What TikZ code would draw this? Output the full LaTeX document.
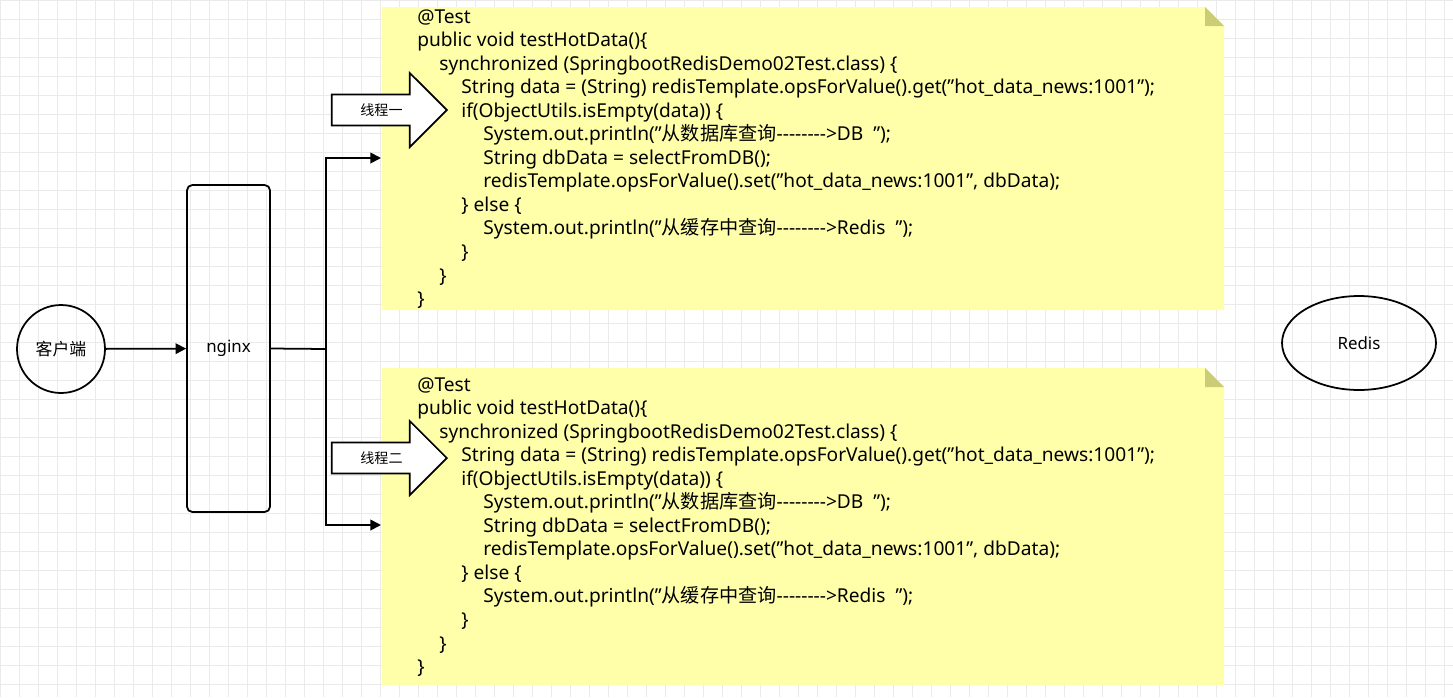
\documentclass[tikz,border=0pt]{standalone}
\usepackage{fontspec}
\setmainfont{Noto Sans}
\newfontfamily\cjk{Noto Sans CJK SC}
\usetikzlibrary{shapes.arrows,shapes.geometric,arrows.meta}
\definecolor{notey}{RGB}{255,255,170}
\definecolor{foldy}{RGB}{204,204,119}
\definecolor{gridc}{RGB}{234,234,234}
\newcommand{\ind}[1]{\hspace*{#1\dimexpr 0.44cm\relax}}
\newcommand{\dq}{\symbol{34}}
\newcommand{\arr}{\symbol{45}\symbol{45}\symbol{45}\symbol{45}\symbol{45}\symbol{45}\symbol{45}\symbol{45}>}
\begin{document}
\begin{tikzpicture}[x=0.02cm,y=-0.02cm,
   every node/.style={font=\fontsize{10.9}{13.4}\selectfont},
   box/.style={draw=black,line width=1pt},
   flow/.style={draw=black,line width=1pt,-{Triangle[length=6pt,width=6pt]}},
   thread/.style={single arrow,draw=black,line width=1pt,fill=white,minimum height=2.3cm,
                  minimum width=1.48cm,single arrow head extend=0.25cm,inner sep=1pt,
                  font=\cjk\fontsize{8}{9}\selectfont}]
 \useasboundingbox (0,0) rectangle (1453,697);
 \fill[white] (0,0) rectangle (1453,697);
 \foreach \g in {0,19,...,1453} \draw[gridc] (\g,0) -- (\g,697);
 \foreach \g in {0,19,...,697} \draw[gridc] (0,\g) -- (1453,\g);

 % notes
 \foreach \t/\h in {7/303,368/317} {
   \fill[notey] (382,\t) -- (1205,\t) -- (1224,\t+19) -- (1224,\t+\h) -- (382,\t+\h) -- cycle;
   \fill[foldy] (1205,\t) -- (1224,\t+19) -- (1205,\t+19) -- cycle;
 }
 \foreach \t/\n in {9/codeA,377/codeB}
 \node[anchor=north west,align=left,inner sep=0pt] (\n) at (417,\t) {
  @Test\\
  public void testHotData()\{\\
  \ind{1}synchronized (SpringbootRedisDemo02Test.class) \{\\
  \ind{2}String data = (String) redisTemplate.opsForValue().get(\dq hot\_data\_news:1001\dq);\\
  \ind{2}if(ObjectUtils.isEmpty(data)) \{\\
  \ind{3}System.out.println(\dq{\cjk 从数据库查询}\arr DB\ \ \dq);\\
  \ind{3}String dbData = selectFromDB();\\
  \ind{3}redisTemplate.opsForValue().set(\dq hot\_data\_news:1001\dq, dbData);\\
  \ind{2}\} else \{\\
  \ind{3}System.out.println(\dq{\cjk 从缓存中查询}\arr Redis\ \ \dq);\\
  \ind{2}\}\\
  \ind{1}\}\\
  \}};

 \node[circle,box,minimum size=1.76cm,font=\cjk\fontsize{9.6}{11}\selectfont] (client) at (61,349) {客户端};
 \node[box,rounded corners=3pt,minimum width=1.66cm,minimum height=6.54cm,font=\fontsize{9.6}{11}\selectfont] (nginx) at (228.5,348.5) {nginx};
 \node[ellipse,box,minimum width=3.08cm,minimum height=1.88cm,font=\fontsize{9.6}{11}\selectfont] (redis) at (1359,343) {Redis};
 \coordinate (in1) at (381,158);
 \coordinate (in2) at (381,525);
 \coordinate (split) at (326,349);

 \draw[flow] (client) -- (nginx);
 \draw[line width=1pt] (nginx.east) -- (split);
 \draw[flow] (split) |- (in1);
 \draw[flow] (split) |- (in2);

 \node[thread,anchor=tip] (t1) at (448,110) {线程一\hspace{0.6cm}};
 \node[thread,anchor=tip] (t2) at (448,458) {线程二\hspace{0.6cm}};
\end{tikzpicture}
\end{document}
